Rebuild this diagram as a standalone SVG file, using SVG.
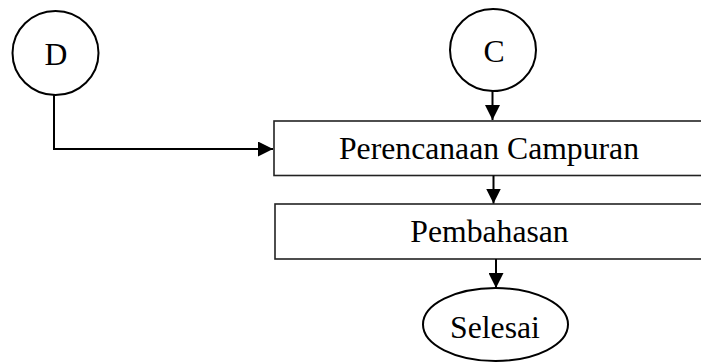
<svg xmlns="http://www.w3.org/2000/svg" width="701" height="362" viewBox="0 0 701 362">
<defs>
<style>
.shape{fill:#fff;stroke:#000;stroke-width:2}
.box{fill:#fff;stroke:#222;stroke-width:1.6}
.lbl{font-family:"Liberation Serif","Times New Roman",serif;font-size:31.7px;fill:#000;text-anchor:middle}
.conn{fill:none;stroke:#000;stroke-width:2}
</style>
<marker id="ah" viewBox="0 0 15 15" refX="15" refY="7.5" markerWidth="15" markerHeight="15" markerUnits="userSpaceOnUse" orient="auto">
<path d="M0,0 L15,7.5 L0,15 Z" fill="#000"/>
</marker>
</defs>
<rect width="701" height="362" fill="#fff"/>
<g id="node-D">
<ellipse class="shape" cx="55.5" cy="53" rx="43" ry="42"/>
<text class="lbl" x="56" y="64.5">D</text>
</g>
<g id="node-C">
<ellipse class="shape" cx="493" cy="50" rx="43" ry="41"/>
<text class="lbl" x="494" y="62">C</text>
</g>
<g id="node-perencanaan">
<rect class="box" x="274" y="121" width="440" height="54.5"/>
<text class="lbl" x="489" y="158.5">Perencanaan Campuran</text>
</g>
<g id="node-pembahasan">
<rect class="box" x="275" y="204" width="440" height="55"/>
<text class="lbl" x="489.5" y="242">Pembahasan</text>
</g>
<g id="node-selesai">
<ellipse class="shape" cx="495.5" cy="324.5" rx="72.5" ry="36.5"/>
<text class="lbl" x="495" y="338">Selesai</text>
</g>
<g id="connectors">
<path class="conn" d="M54,95 V149 H273" marker-end="url(#ah)"/>
<path class="conn" d="M492.5,91 V120" marker-end="url(#ah)"/>
<path class="conn" d="M493.5,175.5 V203.5" marker-end="url(#ah)"/>
<path class="conn" d="M496,259 V288" marker-end="url(#ah)"/>
</g>
</svg>
